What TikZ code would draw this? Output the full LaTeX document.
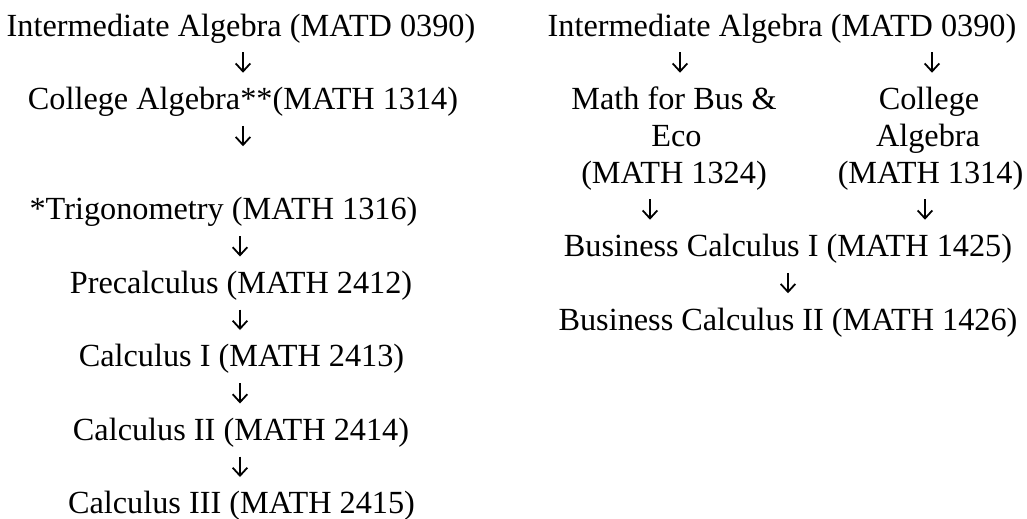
\documentclass[tikz,border=0pt]{standalone}
\usepackage{fontspec}
\usetikzlibrary{arrows.meta}
\setmainfont{Liberation Serif}
\newcommand\downarr[3]{%
  \coordinate (#1t) at (#2,{#3-20.5});
  \coordinate (#1b) at (#2,{#3});
  \draw[dnarr] (#1t) -- (#1b);}
\begin{document}
\begin{tikzpicture}[x=0.75pt,y=-0.75pt,
  lbl/.style={anchor=base,inner sep=0pt,font=\fontsize{24.2}{29}\selectfont},
  dnarr/.style={line width=1.35pt,-{Straight Barb[length=6pt,width=11pt,line width=1.35pt]}}]
\useasboundingbox (0,0) rectangle (1027,518);
\def\r#1{36+36.75*#1}
% left column
\node[lbl] (a0) at (241,{\r{0}}) {Intermediate Algebra (MATD 0390)};
\downarr{la1}{243}{\r{1}}
\node[lbl] (a1) at (243,{\r{2}}) {College Algebra**(MATH 1314)};
\downarr{la2}{243}{\r{3}}
\node[lbl] (a2) at (223.5,{\r{5}}) {*Trigonometry (MATH 1316)};
\downarr{la3}{240}{\r{6}}
\node[lbl] (a3) at (241,{\r{7}}) {Precalculus (MATH 2412)};
\downarr{la4}{240}{\r{8}}
\node[lbl] (a4) at (241.5,{\r{9}}) {Calculus I (MATH 2413)};
\downarr{la5}{240}{\r{10}}
\node[lbl] (a5) at (241,{\r{11}}) {Calculus II (MATH 2414)};
\downarr{la6}{240}{\r{12}}
\node[lbl] (a6) at (241.5,{\r{13}}) {Calculus III (MATH 2415)};
% right column
\node[lbl] (b0) at (782,{\r{0}}) {Intermediate Algebra (MATD 0390)};
\downarr{ra1}{680}{\r{1}}
\downarr{ra2}{932}{\r{1}}
\node[lbl] (b1a) at (674,{\r{2}}) {Math for Bus \&};
\node[lbl] (b1b) at (676.5,{\r{3}}) {Eco};
\node[lbl] (b1c) at (674,{\r{4}}) {(MATH 1324)};
\node[lbl] (b2a) at (929,{\r{2}}) {College};
\node[lbl] (b2b) at (928,{\r{3}}) {Algebra};
\node[lbl] (b2c) at (930.5,{\r{4}}) {(MATH 1314)};
\downarr{ra3}{650}{\r{5}}
\downarr{ra4}{925}{\r{5}}
\node[lbl] (b3) at (788,{\r{6}}) {Business Calculus I (MATH 1425)};
\downarr{ra5}{788}{\r{7}}
\node[lbl] (b4) at (788,{\r{8}}) {Business Calculus II (MATH 1426)};
\end{tikzpicture}
\end{document}
